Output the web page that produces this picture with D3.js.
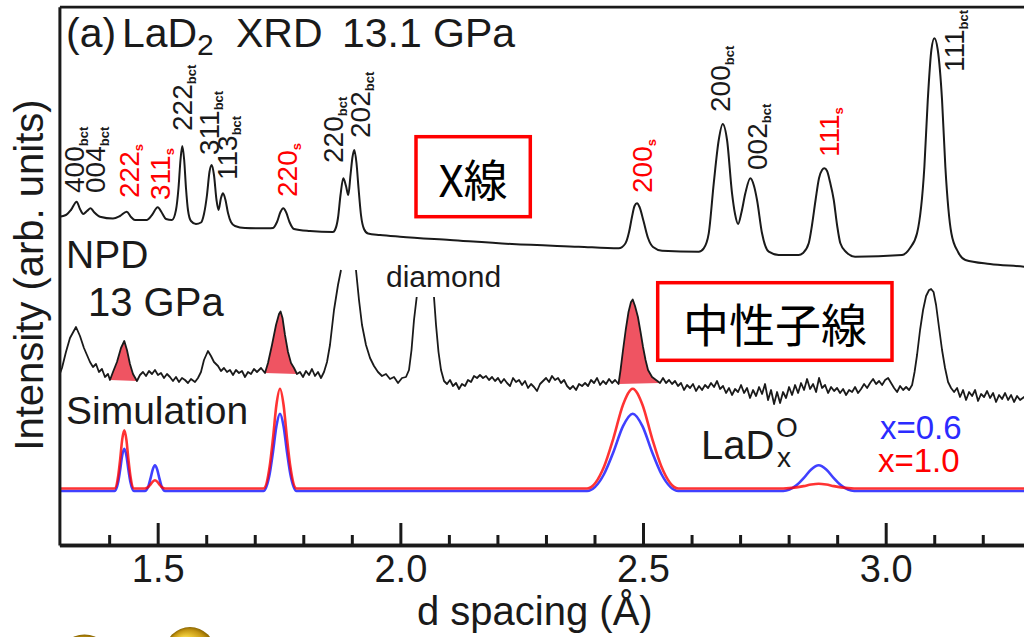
<!DOCTYPE html>
<html>
<head>
<meta charset="utf-8">
<script src="https://cdn.jsdelivr.net/npm/d3@7"></script>
<style>
  html, body { margin: 0; padding: 0; background: #fff; }
  svg { display: block; font-family: "Liberation Sans", Arial, Helvetica, sans-serif; }
</style>
</head>
<body>
<svg id="chart" width="1024" height="637"></svg>
<script>
// d spacing (A) and intensity (arb. units)
const xrdPoints = [
  [1.2975,328.3],[1.3110,330],[1.3213,335],[1.3331,343.3],[1.3399,336],[1.3467,331],[1.3543,334],[1.3619,336.7],
  [1.3687,333],[1.3811,328.3],[1.4079,326.5],[1.4223,329],[1.4361,333.3],[1.4450,328],[1.4532,325],[1.4773,325],
  [1.4883,330],[1.5000,337.7],[1.5089,332],[1.5171,326],[1.5295,325],
  [1.5377,335],[1.5429,357],[1.5470,385],[1.5507,399],[1.5546,385],[1.5583,357],[1.5624,335],[1.5686,324],
  [1.5789,321],[1.5892,322.5],
  [1.5954,331],[1.6016,350],[1.6067,373],[1.6113,380],[1.6160,370],[1.6212,345],[1.6253,335],[1.6304,347],
  [1.6346,351.7],[1.6397,345],[1.6449,332],[1.6510,323],[1.6593,319],[1.6799,317],[1.7280,316.7],
  [1.7376,317],[1.7458,323],[1.7530,333],[1.7588,336.7],[1.7644,333],[1.7716,323],[1.7809,316],[1.8138,314],
  [1.8612,313],
  [1.8653,315],[1.8715,327],[1.8767,350],[1.8824,366.7],[1.8880,359],[1.8928,350],[1.8973,370],[1.9014,388],
  [1.9051,395],[1.9096,382],[1.9138,357],[1.9189,330],[1.9251,316],[1.9333,311.5],[1.9581,310],
  [1.9993,308.3],[2.1023,305],[2.2301,301],[2.3675,298.3],[2.4499,296.7],
  [2.4636,301.5],[2.4712,313],[2.4773,328.3],[2.4825,339],[2.4876,341.7],[2.4928,338],[2.5010,324],[2.5103,307],
  [2.5206,298],[2.5392,294.3],[2.6148,293.3],
  [2.6251,296.7],[2.6354,311.7],[2.6457,361.7],[2.6560,405],[2.6642,421],[2.6731,405],[2.6834,351.7],[2.6896,331],
  [2.6958,321],[2.7030,333],[2.7108,351.7],[2.7211,366.7],[2.7287,359],[2.7349,345],[2.7452,311.7],[2.7590,293.3],
  [2.7796,290],[2.8208,290],
  [2.8297,292],[2.8414,301.7],[2.8482,320],[2.8555,345],[2.8627,367],[2.8689,375],[2.8736,376.7],[2.8792,374],
  [2.8853,363],[2.8930,345],[2.8998,320],[2.9066,301.7],[2.9183,293],[2.9369,288.3],[3.0337,290],
  [3.0502,297],[3.0646,311.7],[3.0797,378.3],[3.0867,445],[3.0941,495],[3.1003,506.7],[3.1073,495],[3.1161,445],
  [3.1229,378.3],[3.1353,311.7],[3.1491,293],[3.1642,285],[3.2150,281],[3.2851,278.3],[3.3000,277.5]
]

// neutron data, null = break where the strong peaks run off the panel
const npdPoints = [
  [1.2975,170],[1.3028,177],[1.3110,193],[1.3193,207],[1.3317,218],[1.3399,209],[1.3481,197],[1.3543,190],
  [1.3605,183],[1.3667,178],[1.3729,181],[1.3790,173],[1.3852,176],[1.3914,168],[1.3976,171],[1.4017,165],
  [1.4079,173],[1.4161,183],[1.4244,197],[1.4312,204],[1.4367,195],[1.4429,181],[1.4491,171],[1.4573,164],
  [1.4635,170],[1.4697,173],[1.4759,169],[1.4821,174],[1.4883,171],[1.4944,175],[1.5006,170],[1.5068,172],
  [1.5130,167],[1.5192,171],[1.5253,168],[1.5315,164],[1.5377,168],[1.5439,163],[1.5501,167],[1.5563,165],
  [1.5624,162],[1.5686,166],[1.5769,163],[1.5830,167],[1.5892,173],[1.5954,185],[1.6036,194],[1.6098,189],
  [1.6160,183],[1.6243,179],[1.6304,174],[1.6366,177],[1.6428,173],[1.6490,175],[1.6552,170],[1.6613,175],
  [1.6675,172],[1.6737,174],[1.6799,168],[1.6861,173],[1.6923,171],[1.6984,176],[1.7046,173],[1.7129,177],
  [1.7211,172],[1.7273,182],[1.7355,200],[1.7438,220],[1.7500,231],[1.7532,233.5],[1.7572,227],[1.7623,210],
  [1.7685,193],[1.7747,182],[1.7809,177],[1.7870,171],[1.7932,173],[1.7994,168],[1.8056,174],[1.8118,170],
  [1.8179,176],[1.8241,169],[1.8303,173],[1.8365,167],[1.8427,173],[1.8489,183],[1.8550,200],[1.8633,235],
  [1.8715,260],[1.8777,275],
  null,
  [1.9086,275],[1.9148,245],[1.9210,220],[1.9292,200],[1.9375,187],[1.9457,179],[1.9539,173],[1.9622,169],
  [1.9704,171],[1.9787,166],[1.9869,168],[1.9952,162],[2.0034,167],[2.0116,168],[2.0178,175],[2.0230,195],
  [2.0281,225],[2.0337,248],
  null,
  [2.0693,248],[2.0735,220],[2.0786,193],[2.0838,175],[2.0900,164],[2.0961,161],[2.1023,165],[2.1085,159],
  [2.1147,162],[2.1209,156],[2.1270,161],[2.1332,159],[2.1394,165],[2.1456,163],[2.1518,169],[2.1580,167],
  [2.1641,170],[2.1703,167],[2.1765,169],[2.1827,165],[2.1889,168],[2.1951,164],[2.2012,167],[2.2074,162],
  [2.2136,166],[2.2198,162],[2.2260,159],[2.2322,167],[2.2383,163],[2.2445,165],[2.2507,160],[2.2569,164],
  [2.2631,157],[2.2693,161],[2.2754,158],[2.2816,154],[2.2878,161],[2.2940,164],[2.3002,167],[2.3064,163],
  [2.3125,169],[2.3187,165],[2.3249,167],[2.3311,162],[2.3373,165],[2.3435,159],[2.3496,156],[2.3558,159],
  [2.3620,155],[2.3682,161],[2.3744,159],[2.3806,162],[2.3867,159],[2.3929,165],[2.3991,162],[2.4053,167],
  [2.4115,160],[2.4177,164],[2.4238,161],[2.4300,166],[2.4362,162],[2.4424,165],[2.4495,161],[2.4537,175],
  [2.4588,195],[2.4643,215],[2.4701,233],[2.4752,243],[2.4788,245.5],[2.4835,239],[2.4895,228],[2.4949,213],
  [2.5000,198],[2.5052,185],[2.5103,175],[2.5186,168],[2.5268,165],[2.5350,162],[2.5412,167],[2.5474,162],
  [2.5536,165],[2.5598,161],[2.5659,164],[2.5721,159],[2.5783,162],[2.5845,155],[2.5907,160],[2.5969,157],
  [2.6030,161],[2.6092,154],[2.6154,159],[2.6216,155],[2.6278,160],[2.6340,157],[2.6401,162],[2.6463,158],
  [2.6525,164],[2.6587,156],[2.6649,159],[2.6711,152],[2.6772,157],[2.6834,150],[2.6896,156],[2.6958,153],
  [2.7020,160],[2.7082,152],[2.7143,157],[2.7205,147],[2.7267,155],[2.7329,149],[2.7391,158],[2.7453,151],
  [2.7514,161],[2.7576,145],[2.7638,155],[2.7700,141],[2.7762,153],[2.7824,142],[2.7885,153],[2.7947,147],
  [2.8009,158],[2.8071,150],[2.8133,160],[2.8195,152],[2.8256,162],[2.8318,155],[2.8380,166],[2.8442,156],
  [2.8504,161],[2.8566,153],[2.8627,167],[2.8689,157],[2.8751,160],[2.8813,152],[2.8875,158],[2.8937,154],
  [2.8998,157],[2.9060,152],[2.9122,156],[2.9184,150],[2.9246,155],[2.9308,153],[2.9369,158],[2.9431,152],
  [2.9493,156],[2.9555,161],[2.9617,157],[2.9679,162],[2.9740,166],[2.9802,161],[2.9864,164],[2.9926,160],
  [2.9988,165],[3.0050,167],[3.0111,162],[3.0173,157],[3.0235,153],[3.0297,159],[3.0359,155],[3.0421,158],
  [3.0482,155],[3.0544,160],[3.0595,173],[3.0646,190],[3.0708,215],[3.0770,235],[3.0832,249],[3.0894,255],
  [3.0935,256],[3.0986,253],[3.1038,240],[3.1100,217],[3.1161,195],[3.1223,177],[3.1285,163],[3.1347,157],
  [3.1409,153],[3.1471,157],[3.1532,148],[3.1594,155],[3.1656,145],[3.1718,153],[3.1780,149],[3.1842,155],
  [3.1903,144],[3.1965,151],[3.2027,148],[3.2089,154],[3.2151,147],[3.2213,152],[3.2274,143],[3.2336,150],
  [3.2398,146],[3.2460,152],[3.2522,145],[3.2584,150],[3.2645,143],[3.2707,149],[3.2769,145],[3.2851,148],
  [3.3000,145]
]

// LaD2 peaks shaded in the neutron pattern (d ranges)
const shadedPeaks = [[1.4017, 1.4573], [1.7211, 1.7870], [2.4495, 2.5350]]

// simulated patterns, x = 1.0 (red) and x = 0.6 (blue)
const simD = [1.2975,
  1.4112,1.4187,1.4227,1.4269,1.4312,1.4355,1.4397,1.4437,1.4512,
  1.4734,1.4814,1.4854,1.4899,1.4944,1.4989,1.5034,1.5074,1.5154,
  1.7180,1.7307,1.7375,1.7447,1.7520,1.7593,1.7665,1.7733,1.7860,
  2.3848,2.4198,2.4388,2.4588,2.4788,2.4988,2.5188,2.5378,2.5728,
  2.7890,2.8160,2.8310,2.8465,2.8620,2.8775,2.8930,2.9080,2.9350,
  3.3000]
const simRed = [56.5,
  56.5,69.3,85.6,105.4,114.7,105.4,85.6,69.3,56.5,
  56.5,58.3,60.6,63.4,64.7,63.4,60.6,58.3,56.5,
  56.5,78.5,106.4,140.3,156.3,140.3,106.4,78.5,56.5,
  56.5,78.5,106.4,140.3,156.3,140.3,106.4,78.5,56.5,
  56.5,57.6,58.9,60.5,61.3,60.5,58.9,57.6,56.5,
  56.5]
const simBlue = [54,
  54,63.3,75.2,89.5,96.3,89.5,75.2,63.3,54,
  54,59.7,66.9,75.6,79.7,75.6,66.9,59.7,54,
  54,71.0,92.7,118.9,131.3,118.9,92.7,71.0,54,
  54,71.0,92.7,118.9,131.3,118.9,92.7,71.0,54,
  54,59.7,66.9,75.6,79.7,75.6,66.9,59.7,54,
  54]

// reflection labels: hkl, phase, label anchor (d, intensity)
const peakLabels = [
  { hkl: '400', sub: 'bct', d: 1.3481, I: 352 },
  { hkl: '004', sub: 'bct', d: 1.3914, I: 352 },
  { hkl: '222', sub: 's', d: 1.4615, I: 347 },
  { hkl: '311', sub: 's', d: 1.5253, I: 345 },
  { hkl: '222', sub: 'bct', d: 1.5707, I: 414 },
  { hkl: '311', sub: 'bct', d: 1.6263, I: 390 },
  { hkl: '113', sub: 'bct', d: 1.6644, I: 365 },
  { hkl: '220', sub: 's', d: 1.7870, I: 348 },
  { hkl: '220', sub: 'bct', d: 1.8818, I: 382 },
  { hkl: '202', sub: 'bct', d: 1.9375, I: 407 },
  { hkl: '200', sub: 's', d: 2.5186, I: 352 },
  { hkl: '200', sub: 'bct', d: 2.6793, I: 433 },
  { hkl: '002', sub: 'bct', d: 2.7555, I: 375 },
  { hkl: '111', sub: 's', d: 2.9039, I: 388 },
  { hkl: '111', sub: 'bct', d: 3.1615, I: 473 }
]

const majorTicks = [1.5, 2.0, 2.5, 3.0]
const minorTicks = [1.4, 1.6, 1.7, 1.8, 1.9, 2.1, 2.2, 2.3, 2.4, 2.6, 2.7, 2.8, 2.9, 3.1, 3.2]

const ink = '#1a1a1a'
const red = '#ff0000'
const blue = '#2b2bff'
const cjk = '"Noto Sans CJK JP", "Noto Sans CJK SC", sans-serif'

const svg = d3.select('#chart')
const x = d3.scaleLinear().domain([1.2975, 3.3]).range([59.4, 1031.3])
const y = d3.scaleLinear().domain([0, 538.3]).range([545, 6.7])

const defs = svg.append('defs')
defs.append('clipPath').attr('id', 'plot-clip')
    .append('rect').attr('x', 59.4).attr('y', 0).attr('width', 1024 - 59.4).attr('height', 545)
const gold = defs.append('radialGradient').attr('id', 'gold').attr('fx', '35%').attr('fy', '30%')
gold.append('stop').attr('offset', '0%').attr('stop-color', '#fffbd2')
gold.append('stop').attr('offset', '40%').attr('stop-color', '#f0cd3c')
gold.append('stop').attr('offset', '80%').attr('stop-color', '#c39512')
gold.append('stop').attr('offset', '100%').attr('stop-color', '#8a6500')

const plot = svg.append('g').attr('clip-path', 'url(#plot-clip)')

const smooth = d3.line().x(p => x(p[0])).y(p => y(p[1])).curve(d3.curveMonotoneX)
const raw = d3.line().defined(p => p !== null).x(p => x(p[0])).y(p => y(p[1]))

// XRD
plot.append('path').datum(xrdPoints)
    .attr('d', smooth).attr('fill', 'none').attr('stroke', ink).attr('stroke-width', 2)

// shaded LaD2 peaks under the NPD line
shadedPeaks.forEach(r => {
    const pts = npdPoints.filter(p => p && p[0] >= r[0] - 1e-6 && p[0] <= r[1] + 1e-6)
    plot.append('path').attr('d', raw(pts) + 'Z').attr('fill', '#ef5462').attr('stroke', 'none')
})
plot.append('path').datum(npdPoints)
    .attr('d', raw).attr('fill', 'none').attr('stroke', ink).attr('stroke-width', 1.8)
    .attr('stroke-linejoin', 'round')

// simulation
plot.append('path').datum(simD.map((d, i) => [d, simBlue[i]]))
    .attr('d', smooth).attr('fill', 'none').attr('stroke', blue).attr('stroke-width', 2.6).attr('opacity', 0.9)
plot.append('path').datum(simD.map((d, i) => [d, simRed[i]]))
    .attr('d', smooth).attr('fill', 'none').attr('stroke', red).attr('stroke-width', 2.6).attr('opacity', 0.8)

// axes
const styleAxis = (g, w) => {
    g.selectAll('path.domain').attr('stroke', ink).attr('stroke-width', w)
    g.selectAll('.tick line').attr('stroke', ink).attr('stroke-width', 3)
}
svg.append('g').attr('transform', 'translate(0,545)')
    .call(d3.axisBottom(x).tickValues(minorTicks).tickSize(-10).tickSizeOuter(0).tickFormat(''))
    .call(g => styleAxis(g, 3.5))
const xAxis = svg.append('g').attr('transform', 'translate(0,545)')
    .call(d3.axisBottom(x).tickValues(majorTicks).tickSize(-22).tickSizeOuter(0).tickPadding(10).tickFormat(d3.format('.1f')))
    .call(g => styleAxis(g, 3.5))
xAxis.selectAll('text').attr('font-size', 38).attr('font-family', '"Liberation Sans", Arial, sans-serif').attr('fill', ink)

svg.append('g').attr('transform', 'translate(59.4,0)')
    .call(d3.axisLeft(y).tickValues([]).tickSizeOuter(0))
    .call(g => styleAxis(g, 3))
svg.append('g').attr('transform', 'translate(0,6.7)')
    .call(d3.axisTop(x).tickValues([]).tickSizeOuter(0))
    .call(g => styleAxis(g, 2.8))

// axis titles
svg.append('text').attr('x', 417).attr('y', 625).attr('font-size', 40).attr('fill', ink).text('d spacing (Å)')
svg.append('text').attr('transform', 'translate(43,275) rotate(-90)').attr('text-anchor', 'middle')
    .attr('font-size', 40).attr('fill', ink).text('Intensity (arb. units)')

// panel title
const title = svg.append('text').attr('y', 46.7).attr('font-size', 41).attr('fill', ink)
title.append('tspan').attr('x', 66).text('(a)')
title.append('tspan').attr('x', 122).text('LaD')
title.append('tspan').attr('x', 197).attr('dy', 8.3).attr('font-size', 30).text('2')
title.append('tspan').attr('x', 236).attr('dy', -8.3).text('XRD')
title.append('tspan').attr('x', 342).text('13.1')
title.append('tspan').attr('x', 433).text('GPa')

// series captions
svg.append('text').attr('x', 66).attr('y', 268.3).attr('font-size', 39).attr('fill', ink).text('NPD')
svg.append('text').attr('x', 88).attr('y', 316).attr('font-size', 40).attr('fill', ink).text('13 GPa')
svg.append('text').attr('x', 386).attr('y', 287).attr('font-size', 30).attr('fill', ink).text('diamond')
svg.append('text').attr('x', 66).attr('y', 424).attr('font-size', 39).attr('fill', ink).text('Simulation')

// reflection labels
svg.selectAll('text.hkl').data(peakLabels).join('text')
    .attr('class', 'hkl')
    .attr('transform', d => `translate(${x(d.d)},${y(d.I)}) rotate(-90)`)
    .attr('font-size', 28)
    .attr('fill', d => (d.sub === 's' ? red : ink))
    .each(function (d) {
        const t = d3.select(this)
        t.append('tspan').text(d.hkl)
        t.append('tspan').attr('font-size', 13).attr('font-weight', 'bold').attr('dy', 4).text(d.sub)
    })

// boxed captions
svg.append('rect').attr('x', 416).attr('y', 136.7).attr('width', 114.3).attr('height', 80)
    .attr('fill', '#fff').attr('stroke', red).attr('stroke-width', 3.5)
svg.append('text').attr('x', 473).attr('y', 178).attr('text-anchor', 'middle').attr('dominant-baseline', 'central')
    .attr('font-family', cjk).attr('font-size', 44).attr('fill', '#000').text('X線')
svg.append('rect').attr('x', 657.7).attr('y', 282.7).attr('width', 234.3).attr('height', 77.6)
    .attr('fill', '#fff').attr('stroke', red).attr('stroke-width', 3.5)
svg.append('text').attr('x', 775).attr('y', 321.5).attr('text-anchor', 'middle').attr('dominant-baseline', 'central')
    .attr('font-family', cjk).attr('font-size', 46).attr('fill', '#000').text('中性子線')

// LaDx^O legend
svg.append('text').attr('x', 701).attr('y', 458.7).attr('font-size', 40).attr('fill', ink).text('LaD')
svg.append('text').attr('x', 776).attr('y', 437).attr('font-size', 28).attr('fill', ink).text('O')
svg.append('text').attr('x', 777).attr('y', 467).attr('font-size', 28).attr('fill', ink).text('x')
svg.append('text').attr('x', 880).attr('y', 438.7).attr('font-size', 33).attr('fill', blue).text('x=0.6')
svg.append('text').attr('x', 878).attr('y', 472).attr('font-size', 33).attr('fill', red).text('x=1.0')

// crystal-structure spheres peeking in from below
svg.append('circle').attr('cx', 190).attr('cy', 652).attr('r', 25).attr('fill', 'url(#gold)')
svg.append('circle').attr('cx', 84.5).attr('cy', 661.5).attr('r', 27).attr('fill', 'url(#gold)')
</script>
</body>
</html>
